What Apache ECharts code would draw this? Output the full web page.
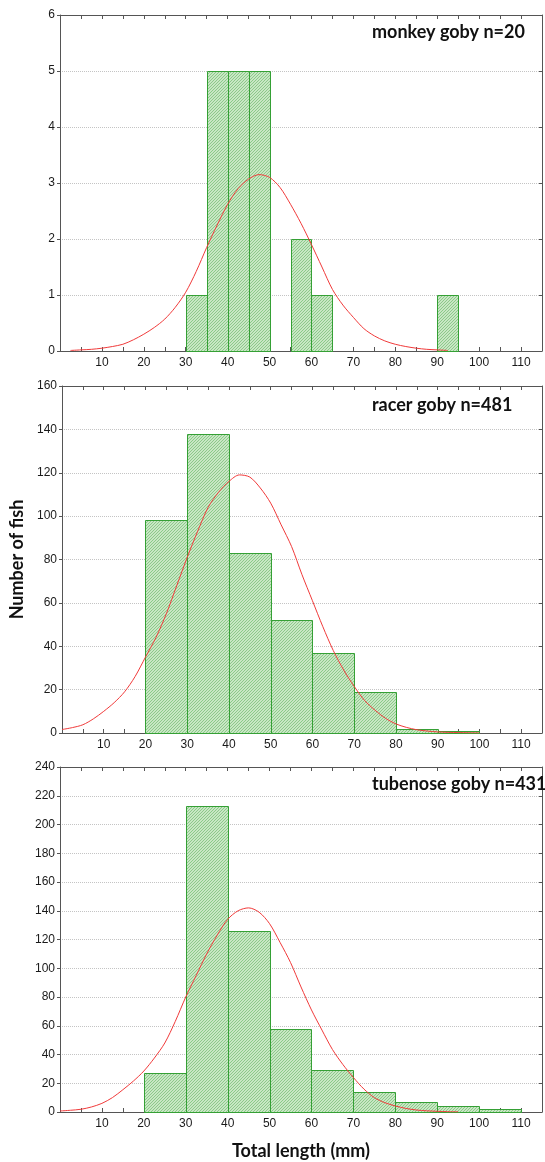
<!DOCTYPE html>
<html>
<head>
<meta charset="utf-8">
<script src="https://cdn.jsdelivr.net/npm/echarts@6/dist/echarts.min.js"></script>
<style>
html,body{margin:0;padding:0;background:#fff;}
#c{width:545px;height:1162px;}
</style>
</head>
<body>
<div id="c"></div>
<script>
// ---- data ----
const xTickLabels = [10, 20, 30, 40, 50, 60, 70, 80, 90, 100, 110];

const monkeyTitle = 'monkey goby n=20';
const monkeyBinStart = [30, 35, 40, 45, 55, 60, 90];
const monkeyBinWidth = 5;
const monkeyCounts = [1, 5, 5, 5, 2, 1, 1];
const monkeyCurveX = [2.5, 5, 7.5, 10, 12.5, 15, 17.5, 20, 22.5, 25, 27.5, 30, 32.5, 35, 37.5, 40, 42.5, 45, 47.5, 50, 52.5, 55, 57.5, 60, 62.5, 65, 67.5, 70, 72.5, 75, 77.5, 80, 82.5, 85, 87.5, 90, 92.5];
const monkeyCurveY = [0.01, 0.02, 0.03, 0.05, 0.08, 0.12, 0.2, 0.3, 0.42, 0.57, 0.78, 1.05, 1.42, 1.85, 2.25, 2.62, 2.9, 3.07, 3.15, 3.1, 2.92, 2.62, 2.28, 1.9, 1.5, 1.1, 0.82, 0.6, 0.4, 0.27, 0.18, 0.12, 0.08, 0.05, 0.03, 0.02, 0.01];

const racerTitle = 'racer goby n=481';
const racerBinStart = [20, 30, 40, 50, 60, 70, 80, 90];
const racerBinWidth = 10;
const racerCounts = [98, 138, 83, 52, 37, 19, 2, 1];
const racerCurveX = [0, 2.5, 5, 7.5, 10, 12.5, 15, 17.5, 20, 22.5, 25, 27.5, 30, 32.5, 35, 37.5, 40, 42.5, 45, 47.5, 50, 52.5, 55, 57.5, 60, 62.5, 65, 67.5, 70, 72.5, 75, 77.5, 80, 82.5, 85, 87.5, 90, 92.5, 95, 97.5, 100];
const racerCurveY = [1.6, 2.5, 3.8, 6.5, 10, 14, 19, 26, 35, 44, 55, 68, 81, 93, 104, 111, 116, 119, 118, 113, 106, 96, 86, 73, 61, 49, 38, 29, 21.5, 15, 10.5, 6.8, 4.2, 2.6, 1.5, 0.9, 0.5, 0.3, 0.2, 0.1, 0.05];

const tubeTitle = 'tubenose goby n=431';
const tubeBinStart = [20, 30, 40, 50, 60, 70, 80, 90, 100];
const tubeBinWidth = 10;
const tubeCounts = [27, 213, 126, 58, 29, 14, 7, 4, 2];
const tubeCurveX = [0, 2.5, 5, 7.5, 10, 12.5, 15, 17.5, 20, 22.5, 25, 27.5, 30, 32.5, 35, 37.5, 40, 42.5, 45, 47.5, 50, 52.5, 55, 57.5, 60, 62.5, 65, 67.5, 70, 72.5, 75, 77.5, 80, 82.5, 85, 87.5, 90, 92.5, 95];
const tubeCurveY = [0.7, 1.2, 1.9, 3.5, 6, 10, 15.5, 21.5, 28.5, 37.5, 48, 63, 80, 95, 110, 123, 134, 140, 142, 139, 131, 118, 104, 87, 71, 57, 43.5, 33, 24, 16, 10, 6.5, 4.2, 2.5, 1.4, 0.8, 0.5, 0.2, 0.1];

const yMaxes = [6, 160, 240];
const yIntervals = [1, 20, 20];
const xAxisName = 'Total length (mm)';
const yAxisName = 'Number of fish';

// ---- styling ----
const hatch = document.createElement('canvas');
hatch.width = 3; hatch.height = 3;
(function () {
  const g = hatch.getContext('2d');
  g.fillStyle = '#c8e7c4';
  g.fillRect(0, 0, 3, 3);
  g.fillStyle = '#8cc98a';
  for (let i = 0; i < 3; i++) g.fillRect(i, 2 - i, 1, 1);
})();
const hatchFill = { image: hatch, repeat: 'repeat' };

const grids = [
  { left: 60, top: 15, width: 484, height: 336 },
  { left: 60, top: 386, width: 484, height: 347 },
  { left: 60, top: 767, width: 484, height: 345 }
];

const panels = [
  { title: monkeyTitle, start: monkeyBinStart, w: monkeyBinWidth, counts: monkeyCounts, cx: monkeyCurveX, cy: monkeyCurveY },
  { title: racerTitle, start: racerBinStart, w: racerBinWidth, counts: racerCounts, cx: racerCurveX, cy: racerCurveY },
  { title: tubeTitle, start: tubeBinStart, w: tubeBinWidth, counts: tubeCounts, cx: tubeCurveX, cy: tubeCurveY }
];

const axisColor = '#555';
const labelStyle = { color: '#1a1a1a', fontFamily: 'Liberation Sans', fontSize: 12 };

const xAxes = [], yAxes = [], series = [], titles = [];
panels.forEach((p, i) => {
  xAxes.push({
    gridIndex: i, type: 'value', min: 0, max: 115, interval: 5, position: 'bottom',
    axisLine: { show: true, onZero: false, lineStyle: { color: axisColor, width: 1 } },
    axisTick: { show: true, inside: true, length: 4, lineStyle: { color: axisColor } },
    axisLabel: Object.assign({ margin: 6, formatter: v => xTickLabels.includes(v) ? String(v) : '' }, labelStyle),
    splitLine: { show: false },
    name: i === 2 ? xAxisName : '', nameLocation: 'middle', nameGap: 30,
    nameTextStyle: { fontFamily: 'Lato', fontWeight: 'bold', fontSize: 18, color: '#111' }
  });
  xAxes.push({
    gridIndex: i, type: 'value', min: 0, max: 115, interval: 5, position: 'top',
    axisLine: { show: true, onZero: false, lineStyle: { color: axisColor, width: 1 } },
    axisTick: { show: true, inside: true, length: 4, lineStyle: { color: axisColor } },
    axisLabel: { show: false }, splitLine: { show: false }
  });
  yAxes.push({
    gridIndex: i, type: 'value', min: 0, max: yMaxes[i], interval: yIntervals[i], position: 'left',
    axisLine: { show: true, onZero: false, lineStyle: { color: axisColor, width: 1 } },
    axisTick: { show: true, inside: false, length: 3, lineStyle: { color: axisColor } },
    axisLabel: Object.assign({ margin: 5 }, labelStyle),
    splitLine: { show: true, lineStyle: { color: '#c4c4c4', type: 'dotted', width: 1 } },
    name: i === 1 ? yAxisName : '', nameLocation: 'middle', nameGap: 36, nameRotate: 90,
    nameTextStyle: { fontFamily: 'Lato', fontWeight: 'bold', fontSize: 18, color: '#111' }
  });
  yAxes.push({
    gridIndex: i, type: 'value', min: 0, max: yMaxes[i], interval: yIntervals[i], position: 'right',
    axisLine: { show: true, onZero: false, lineStyle: { color: axisColor, width: 1 } },
    axisTick: { show: true, inside: true, length: 3, lineStyle: { color: axisColor } },
    axisLabel: { show: false }, splitLine: { show: false }
  });
  series.push({
    type: 'custom',
    xAxisIndex: i * 2, yAxisIndex: i * 2,
    data: p.start.map((s, k) => [s, s + p.w, p.counts[k]]),
    encode: { x: [0, 1], y: 2 },
    renderItem: function (params, api) {
      const a = api.coord([api.value(0), api.value(2)]);
      const b = api.coord([api.value(1), 0]);
      return {
        type: 'rect',
        shape: { x: Math.round(a[0]) + 0.5, y: Math.round(a[1]) + 0.5, width: Math.round(b[0]) - Math.round(a[0]), height: Math.round(b[1]) - Math.round(a[1]) },
        style: { fill: hatchFill, stroke: '#35a035', lineWidth: 1 }
      };
    },
    z: 2
  });
  series.push({
    type: 'line',
    xAxisIndex: i * 2, yAxisIndex: i * 2,
    data: p.cx.map((x, k) => [x, p.cy[k]]),
    smooth: 0.3, showSymbol: false, symbol: 'none',
    lineStyle: { color: '#f03a3a', width: 1 },
    z: 3
  });
  titles.push({
    text: p.title, left: 372, top: grids[i].top + [8, 10, 8][i], padding: 0,
    textStyle: { fontFamily: 'Lato', fontWeight: 'bold', fontSize: 18, color: '#111' }
  });
});

const chart = echarts.init(document.getElementById('c'), null, { renderer: 'canvas' });
chart.setOption({
  animation: false,
  backgroundColor: '#fff',
  title: titles,
  grid: grids,
  xAxis: xAxes,
  yAxis: yAxes,
  series: series
});
</script>
</body>
</html>
